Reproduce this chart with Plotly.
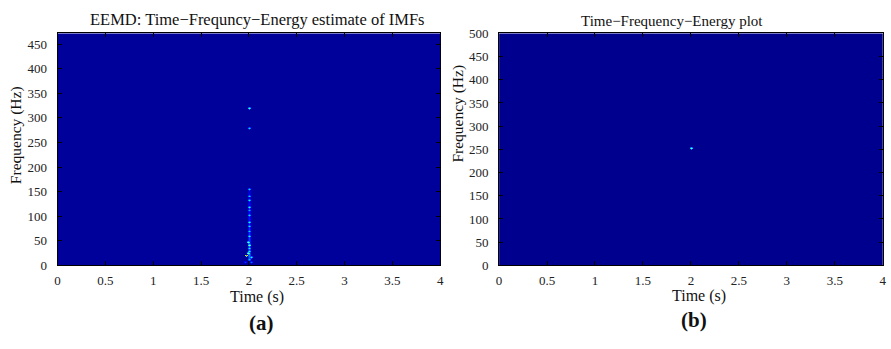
import numpy as np
import plotly.graph_objects as go

# ---------------- data ----------------
time_edges = [0.0, 4.0]
a_freq_max = 472.0
b_freq_max = 500.0
x_ticks = [0, 0.5, 1, 1.5, 2, 2.5, 3, 3.5, 4]
x_tick_text = ["0", "0.5", "1", "1.5", "2", "2.5", "3", "3.5", "4"]
a_y_ticks = [0, 50, 100, 150, 200, 250, 300, 350, 400, 450]
b_y_ticks = [0, 50, 100, 150, 200, 250, 300, 350, 400, 450, 500]

# (a) EEMD energy spots: time (s), frequency (Hz), normalised energy
a_spot_time = [2.00, 2.00, 2.00, 2.00, 2.00, 2.005, 2.00, 2.005, 2.00, 2.00, 2.00, 2.00,
               1.995, 2.00, 2.01, 1.99, 2.01, 1.975, 2.02, 2.00, 2.03, 1.96, 2.00]
a_spot_freq = [318, 278, 154, 141, 130, 117, 111, 100, 86, 78, 68, 58,
               46, 40, 34, 25, 29, 18, 14, 10, 5, 4, 21]
a_spot_energy = [0.42, 0.32, 0.32, 0.32, 0.35, 0.38, 0.28, 0.34, 0.38, 0.34, 0.32, 0.38,
                 0.47, 0.50, 0.36, 0.52, 0.38, 0.74, 0.36, 0.30, 0.22, 0.16, 0.42]
a_background = 0.012
# faint streak along the column
a_streak_freq = [12, 20, 30, 40, 50, 60, 70, 80, 90, 100, 110, 120, 130, 140, 150]
a_streak_energy = [0.20, 0.22, 0.20, 0.19, 0.17, 0.16, 0.15, 0.14, 0.13, 0.12, 0.12, 0.11, 0.10, 0.09, 0.08]

# (b) single energy spot
b_spot_time = [2.0]
b_spot_freq = [250]
b_spot_energy = [0.45]
b_background = 0.0

# ---------------- grids ----------------
dt = 0.01
df = 2.0
nt = int(round((time_edges[1] - time_edges[0]) / dt))


def build(freq_max, bg, times, freqs, energies, streak_f=None, streak_e=None):
    nf = int(np.ceil(freq_max / df))
    z = np.full((nf, nt), bg)
    footprint = [(-1, 0, 0.7), (0, 0, 1.0), (1, 0, 0.7), (0, 1, 0.6), (-1, 1, 0.4),
                 (1, 1, 0.4), (0, -1, 0.5)]
    if streak_f is not None:
        for f, e in zip(streak_f, streak_e):
            i = int(f / df)
            j = int(2.0 / dt)
            for jj in (j - 1, j, j + 1):
                for ii in range(i - 2, i + 3):
                    if 0 <= ii < nf:
                        z[ii, jj] = max(z[ii, jj], e * (0.75 if jj != j else 1.0))
    for t, f, e in zip(times, freqs, energies):
        i = int(f / df)
        j = int(t / dt)
        for dj, di, w in footprint:
            ii, jj = i + di, j + dj
            if 0 <= ii < nf and 0 <= jj < nt:
                z[ii, jj] = max(z[ii, jj], e * w)
    return z


za = build(a_freq_max, a_background, a_spot_time, a_spot_freq, a_spot_energy,
           a_streak_freq, a_streak_energy)
zb = build(b_freq_max, b_background, b_spot_time, b_spot_freq, b_spot_energy)

jet = [[0.0, "rgb(0,0,143)"], [0.11, "rgb(0,0,255)"], [0.36, "rgb(0,255,255)"],
       [0.61, "rgb(255,255,0)"], [0.86, "rgb(255,0,0)"], [1.0, "rgb(128,0,0)"]]

fig = go.Figure()
fig.add_trace(go.Heatmap(z=za, x0=dt / 2, dx=dt, y0=df / 2, dy=df, colorscale=jet,
                         zmin=0, zmax=1, showscale=False, xaxis="x", yaxis="y",
                         hoverinfo="skip"))
fig.add_trace(go.Heatmap(z=zb, x0=dt / 2, dx=dt, y0=df / 2, dy=df, colorscale=jet,
                         zmin=0, zmax=1, showscale=False, xaxis="x2", yaxis="y2",
                         hoverinfo="skip"))

W, H = 891, 349
SERIF = "Liberation Serif"
font = dict(family=SERIF, size=12, color="#222")
ax_common = dict(showline=True, linecolor="black", linewidth=1, mirror="ticks",
                 ticks="inside", ticklen=4, tickcolor="black", showgrid=False,
                 zeroline=False, tickfont=dict(family=SERIF, size=13, color="#222"))
ya_top, ya_bot = 1 - 27.5 / H, 1 - 270 / H
fig.update_layout(
    width=W, height=H, margin=dict(l=0, r=0, t=0, b=0),
    paper_bgcolor="white", plot_bgcolor="white", font=font,
    xaxis=dict(domain=[55 / W, 440.7 / W], range=time_edges, tickvals=x_ticks,
               ticktext=x_tick_text, anchor="y", ticklabelstandoff=3, **ax_common),
    yaxis=dict(domain=[ya_bot, ya_top], range=[0, a_freq_max], tickvals=a_y_ticks,
               anchor="x", ticklabelstandoff=7, **ax_common),
    xaxis2=dict(domain=[500 / W, 886.7 / W], range=time_edges, tickvals=x_ticks,
                ticktext=x_tick_text, anchor="y2", ticklabelstandoff=3, **ax_common),
    yaxis2=dict(domain=[ya_bot, ya_top], range=[0, b_freq_max], tickvals=b_y_ticks,
                anchor="x2", ticklabelstandoff=7, ticksuffix="\u00a0\u00a0\u00a0",
                **ax_common),
)

ann = []
def txt(x, y, s, size=13, bold=False, angle=0):
    ann.append(dict(x=x / W, y=1 - y / H, xref="paper", yref="paper", text=(f"<b>{s}</b>" if bold else s),
                    showarrow=False, textangle=angle, xanchor="center", yanchor="middle",
                    font=dict(family=SERIF, size=size, color="#111")))

txt(257, 13, "EEMD: Time−Frequncy−Energy estimate of IMFs", 16.5)
txt(674, 15, "Time−Frequency−Energy plot", 15)
txt(256, 303, "Time (s)", 16)
txt(702, 302, "Time (s)", 16)
txt(13, 134, "Frequency (Hz)", 15.5, angle=-90)
txt(459, 111, "Frequency (Hz)", 15.5, angle=-90)
txt(261, 330, "(a)", 21, bold=True)
txt(696, 327, "(b)", 21, bold=True)
fig.update_layout(annotations=ann)

fig.write_html("out.html")
